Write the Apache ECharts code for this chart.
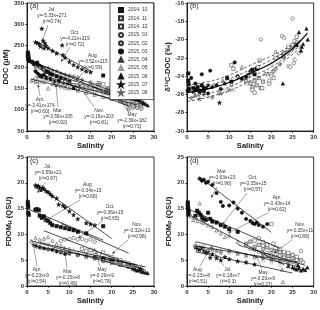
<!DOCTYPE html>
<html><head><meta charset="utf-8">
<script src="https://cdn.jsdelivr.net/npm/echarts@6/dist/echarts.min.js"></script>
<style>html,body{margin:0;padding:0;background:#fff}#c{width:320px;height:310px}</style>
</head><body><div id="c"></div>
<script>
// ---------- data ----------
const months = ['2014. 10','2014. 11','2014. 12','2015. 01','2015. 02','2015. 03','2015. 04','2015. 05','2015. 06','2015. 07','2015. 08'];
const xTicks = [0,5,10,15,20,25,30];

// panel (a) DOC (uM) vs salinity
const a_1410 = [[0.2,234],[0.3,230],[0.2,226],[0.4,222],[0.3,218],[0.5,214],[1.2,212],[1.6,208],[2,206],[2.4,210],[2.8,203],[3.2,200],[3.6,197],[4,194],[4.5,190],[5,188],[5.5,184],[6,182],[7,178],[8,174],[9,170],[10,166],[18,180]];
const a_1411 = [[9,165],[10,162],[11,158],[12,157],[13,155],[14,152],[15,150],[16,148],[17,146],[18,142],[19,140],[20,138],[21,135],[22,130],[23,128],[24,125],[25,120],[26,117],[27,114]];
const a_1412 = [[15,155],[16,158],[17,162],[18,160],[19,150],[20,158],[21,152],[22,148],[23,140],[24,132],[25,125],[26,120],[24,110],[26,108],[22,125],[20,145]];
const a_1501 = [[17,150],[18,145],[19,140],[20,135],[21,130],[22,125],[23,122],[24,118],[25,112],[26,108],[27,105],[25,104],[23,115]];
const a_1502 = [[19,138],[20,132],[21,128],[22,122],[23,118],[24,112],[25,108],[26,104],[27,102],[24,100]];
const a_1503 = [[2,190],[2.5,185],[3,180],[3.5,178],[4,182],[4.5,175],[5,170],[5.5,172],[6,168],[6.5,165],[7,162],[7.5,168],[8,160],[9,158],[10,160],[11,150],[12,148]];
const a_1504 = [[1,168],[1.5,170],[2,165],[2.5,168],[3,166],[4,165],[5,150],[6,160],[7,158],[8,155],[9,152],[10,150],[12,145],[14,140],[16,135],[18,130],[20,125],[22,120],[24,115],[26,112]];
const a_1505 = [[2,175],[3,172],[4,172],[5,170],[6,168],[7,165],[8,162],[9,160],[10,158],[12,152],[14,148],[16,142],[18,138],[20,132],[22,128],[24,125],[26,120]];
const a_1506 = [[23.5,156],[25,140],[26,125],[26.5,122],[27,118],[27.5,115],[28,113],[28.5,110]];
const a_1507 = [[3.5,290],[2,258],[2.5,256],[3,253],[3.2,248],[3.8,262],[4.2,256],[4,244],[4.5,250],[5,244],[6,238],[7,232],[8.3,251],[8.5,228],[9,222],[10,212],[11,205],[12,200],[13,195],[14,190],[15,188]];
const a_1508 = [[2,200],[3,198],[4,195],[5,198],[6,192],[7,190],[8,185],[9,182],[10,180],[11,178],[12,175],[13,170],[15,165],[17,160],[19,150],[21,142],[23,135],[25,128],[27,120]];

// panel (b) d13C-DOC (permil)
const b_1410 = [[0.3,-23.7],[0.3,-24.5],[0.4,-24.9],[0.5,-25.4],[0.2,-25.6],[1.5,-25.3],[2,-25.5],[2.5,-25.2],[3,-25.6],[3.5,-25.0],[4,-25.4],[9.5,-24.2],[10.5,-24.6],[15.5,-23.3],[16,-23.8],[16.5,-23.2]];
const b_1411 = [[14,-24.5],[14.5,-23.9],[15,-24.8],[15.5,-25.2],[16,-24.5],[16.5,-25.0],[17,-24.2],[17.5,-25.3],[18,-24.6]];
const b_1412 = [[10.5,-22.8],[11,-23.2],[15.5,-25.5],[16,-25.8],[16.8,-23.0],[17.2,-22.3],[17.8,-25.3],[19.5,-24.8],[20,-23.8],[20.5,-24.2],[21,-22.0],[22,-21.8],[23,-21.5],[24,-20.8],[25,-20.6],[25.5,-20.2],[26,-19.7]];
const b_1501 = [[17.5,-20.0],[19,-23.8],[19.5,-24.5],[20,-24.0],[22.5,-19.6],[23,-19.8],[24,-22.9],[24.5,-23.0],[25,-17.7],[25.5,-22.2],[26,-20.3],[26.5,-21.5],[25.3,-22.6]];
const b_1502 = [[20.5,-23.5],[21,-23.2],[22,-22.7],[23,-22.0],[24,-21.3],[25,-21.0],[26,-20.5]];
const b_1503 = [[1,-24.2],[2,-24.8],[3,-25.6],[3.5,-23.8],[4,-25.7],[4.5,-25.3],[5,-25.9],[5.5,-23.4],[6,-25.2],[7,-25.0],[8,-25.4],[11.3,-22.5],[12,-24.0],[13,-24.3],[14,-24.1],[15,-23.5]];
const b_1504 = [[7.5,-25.8],[8.5,-24.5],[10.5,-24.9],[12,-24.0],[13,-23.0],[15,-23.6],[18.5,-23.7],[21,-21.3],[22.7,-21.8],[23,-21.4]];
const b_1505 = [[2,-26.0],[3,-26.3],[5,-26.2],[9,-25.6],[11,-25.5],[14,-24.8],[20,-22.6],[24,-21.5]];
const b_1506 = [[22.7,-24.8],[26,-20.6],[26.5,-19.2],[27,-21.2],[27.5,-20.5],[28.3,-18.8],[28.6,-20.0],[27.2,-20.8]];
const b_1507 = [[1.5,-25.7],[2.5,-25.5],[3,-25.8],[4,-25.3],[5,-25.0],[7.7,-26.9],[9,-24.8]];
const b_1508 = [[1,-26.4],[2,-26.1],[3,-26.5],[4,-26.0],[6,-26.3],[8,-25.9],[10,-25.5]];
const bBandX = [0,5,10,15,20,25,27];
const bUpper2 = [-25.0,-24.6,-23.9,-22.8,-21.8,-20.6,-20.0];
const bUpper1 = [-25.3,-25.0,-24.3,-23.3,-22.2,-20.8,-20.1];
const bLower1 = [-26.4,-25.9,-25.2,-24.1,-23.0,-21.3,-20.6];
const bLower2 = [-26.8,-26.3,-25.6,-24.5,-23.4,-21.6,-20.8];
const bFitX = [0,5,10,15,20,25,28.5];
const bFit = [-25.8,-25.4,-24.7,-23.7,-22.6,-21.0,-19.3];

// panel (c) FDOM_H (QSU)
const c_1410 = [[0.2,16.3],[0.2,15.8],[0.3,15.3],[0.3,14.2],[0.4,13.8],[2,14.8],[2.4,14.9],[2.8,14.7],[3,13.6],[3.5,13.2],[4,13.5],[4.5,12.8],[5,12.6],[5.5,12.2],[6,11.8],[7,11.6],[8,11.4],[9,11.2],[10,11.0],[11,10.8],[12,10.5],[14,10.2],[18,11.6]];
const c_1411 = [[17,5.6],[18,5.3],[19,5.0],[20,4.8],[21,4.6],[22,4.4],[23,4.2],[24,4.0],[25,3.7],[26,3.4],[27,3.2]];
const c_1412 = [[13,7.2],[14,6.8],[15,7.0],[16,6.6],[17,6.2],[18,6.5],[19,5.8],[20,5.6],[21,5.2],[22,5.0],[23,4.6],[24,4.4],[25,4.0]];
const c_1501 = [[8,8.7],[9,9.0],[10,9.1],[11,9.3],[12,9.0],[13,9.1],[14,8.8],[15,9.0],[16,8.6],[18,4.8],[20,5.2],[22,4.4],[24,3.9],[26,3.5]];
const c_1502 = [[19,5.3],[20,5.0],[21,4.7],[22,4.5],[23,4.2],[24,3.8],[25,3.6],[26,3.3]];
const c_1503 = [[2,7.8],[3,7.5],[4,7.3],[5,7.1],[6,7.0],[7,6.7],[8,6.5],[9,6.2],[10,6.3],[12,6.0],[14,5.8],[16,5.6],[18,5.4],[20,4.9]];
const c_1504 = [[1,8.7],[2,9.3],[3,9.0],[4,9.2],[5,9.5],[6,8.8],[7,8.2],[8,7.8],[10,7.2],[12,6.5],[14,6.0],[16,5.5],[18,5.0],[20,4.5],[22,4.1]];
const c_1505 = [[2,8.5],[3,8.4],[4,8.6],[5,8.2],[7,7.9],[9,7.3],[11,7.0],[13,6.5],[15,6.2],[17,5.8],[19,5.4],[21,5.0],[23,4.6],[25,4.2],[27,3.9]];
const c_1506 = [[24,3.8],[25,3.4],[25.5,3.2],[26,3.0],[26.5,3.1],[27,2.8],[27.5,2.7],[28,2.6],[28.5,2.5],[26.8,3.4]];
const c_1507 = [[2,19.5],[2.3,19.2],[2.7,19.4],[3,19.0],[3.3,18.6],[3.7,19.1],[4,18.8],[4.5,18.4],[5,18.2],[5.5,17.8],[6,17.4],[7,17.0],[7.5,15.8],[8.5,15.6],[9,15.2],[10,14.5],[11,13.8],[12,13.0],[14,12.2],[15,12.0],[16,11.8]];
const c_1508 = [[1.5,8.0],[2.5,7.6],[3.5,7.4],[5,7.2],[6.5,7.0],[8,6.7],[10,6.4],[12,6.0],[14,5.6],[16,5.3],[18,5.0],[20,4.6],[22,4.2],[24,3.8]];

// panel (d) FDOM_P (QSU)
const d_1410 = [[0.2,16.2],[0.2,15.8],[0.2,15.4],[0.3,15.0],[0.3,14.6],[0.4,14.2],[0.3,13.8],[2,13.6],[2.4,14.6],[2.8,14.2],[3.2,13.8],[3.6,13.2],[4,13.0],[4.5,12.8],[5,14.2],[5.5,13.0],[6,12.5],[7,12.3],[8,11.8],[9,11.5],[10,11.0],[12,10.5]];
const d_1411 = [[14,8.2],[15,8.6],[16,7.6],[17,8.0],[18,7.2],[19,7.5],[20,7.0],[21,6.8],[22,6.6],[23,6.0],[24,5.8],[25,5.4],[26,5.2],[27,5.0]];
const d_1412 = [[16,8.8],[17,9.2],[18,8.5],[19,8.0],[20,12.0],[20.5,8.2],[21,7.4],[22,7.2],[23,6.6],[24,6.4],[25,6.0],[26,5.6]];
const d_1501 = [[15,7.2],[16,7.0],[17,6.6],[18,7.8],[19,6.4],[20,6.2],[21,6.0],[22,5.8],[23,5.5],[24,5.2],[25,6.0],[26,5.0],[27,6.8],[27.5,4.6]];
const d_1502 = [[18,6.2],[19,6.0],[20,5.8],[21,5.6],[22,5.3],[23,5.0],[24,4.8],[25,4.6],[26,4.4]];
const d_1503 = [[3,20.8],[3.5,20.4],[4,20.6],[4.5,20.0],[5,20.2],[6,19.6],[7,18.0],[8,16.3],[8.5,15.5],[10,15.6],[11,16.2],[12,15.0],[13,14.2],[14,13.0],[15,12.6],[15.5,12.2],[16,12.0],[16.5,12.3],[17,11.8],[18,11.5],[19,12.0]];
const d_1504 = [[1,13.5],[1.5,12.8],[2,13.2],[2.5,12.6],[3,16.0],[3.5,12.4],[4,12.2],[5,11.8],[6,11.5],[7,10.8],[8,10.2],[9,9.5],[10,9.8],[12,8.6],[14,8.0],[16,7.2],[18,6.5],[20,6.0],[22.5,3.2],[22.7,0.8]];
const d_1505 = [[2,8.2],[4,7.8],[6,7.4],[8,7.0],[10,6.6],[12,6.2],[14,5.8],[16,5.4],[18,5.0],[20,4.6],[22,4.2],[24,3.8]];
const d_1506 = [[24,3.9],[25,3.6],[25.5,3.4],[26,3.2],[26.5,3.5],[27,3.0],[27.5,3.3],[28,3.1],[28.5,3.6],[26.3,4.0]];
const d_1507 = [[2,7.5],[2.5,7.2],[3,7.0],[3.5,7.4],[4,6.8],[4.5,6.5],[5,6.6],[5.5,5.5],[6,6.2],[7,5.4],[8,5.0],[9,5.6],[10,5.2],[12,4.8],[14,4.6],[16,4.2]];
const d_1508 = [[2,7.8],[3,7.6],[4,7.3],[5,7.0],[6,7.1],[7,6.8],[8,6.5],[10,6.8],[12,6.3],[14,6.0],[16,5.7],[18,5.4],[20,5.1],[22,4.8],[24,4.4]];

// regressions: [month, slope, intercept, r2, salinity from, salinity to]
const fitA = [['Jul.',-5.33,271,'0.74',2,15.5],['Oct.',-4.21,219,'0.72',0,22],['Aug.',-3.52,215,'0.59',2,28],['Apr.',-2.41,174,'0.60',1,26],['Mar.',-3.59,195,'0.92',2,24],['Nov.',-3.16,203,'0.81',5,28],['May',-2.39,182,'0.73',2,27]];
const fitC = [['Jul.',-0.59,21,'0.97',2,20],['Aug.',-0.34,15,'0.68',0,18],['Oct.',-0.36,15,'0.65',8,24],['Nov.',-0.32,12,'0.98',4,28],['Apr.',-0.23,9,'0.54',1,26],['Mar.',-0.15,8,'0.45',2,26],['May',-0.19,9,'0.78',3,28]];
const fitD = [['Mar.',-0.63,23,'0.96',3,20],['Oct.',-0.35,15,'0.57',0,22],['Apr.',-0.43,14,'0.62',1,23],['Nov.',-0.25,11,'0.89',12,28],['Aug.',-0.13,8,'0.51',2,26],['Jul.',-0.18,7,'0.3',2,25],['May',-0.20,9,'0.27',2,27]];

// ---------- layout / style ----------
const aPts = [a_1410,a_1411,a_1412,a_1501,a_1502,a_1503,a_1504,a_1505,a_1506,a_1507,a_1508];
const bPts = [b_1410,b_1411,b_1412,b_1501,b_1502,b_1503,b_1504,b_1505,b_1506,b_1507,b_1508];
const cPts = [c_1410,c_1411,c_1412,c_1501,c_1502,c_1503,c_1504,c_1505,c_1506,c_1507,c_1508];
const dPts = [d_1410,d_1411,d_1412,d_1501,d_1502,d_1503,d_1504,d_1505,d_1506,d_1507,d_1508];
const STAR = 'path://M50,0L61,35L98,35L68,57L79,91L50,70L21,91L32,57L2,35L39,35Z';
const markStyle = [
 {symbol:'rect', fill:'#111', stroke:'#111'},
 {symbol:'rect', fill:'#ccc', stroke:'#333'},
 {symbol:'rect', fill:'#fff', stroke:'#333'},
 {symbol:'circle', fill:'#fff', stroke:'#333'},
 {symbol:'circle', fill:'#ccc', stroke:'#333'},
 {symbol:'circle', fill:'#111', stroke:'#111'},
 {symbol:'triangle', fill:'#fff', stroke:'#333'},
 {symbol:'triangle', fill:'#fff', stroke:'#999'},
 {symbol:'triangle', fill:'#111', stroke:'#111'},
 {symbol:STAR, fill:'#111', stroke:'#111'},
 {symbol:STAR, fill:'#999', stroke:'#666'}
];
// note layout in pixels: [textCenterX, textTopY, arrowFromX, arrowFromY, arrowToX, arrowToY]
const noteA = {'Jul.':[52,7,48,25,40,47],'Oct.':[75,30,70,47,61,62],'Aug.':[93,53,86,70,75,81],'Apr.':[40,97,40,96,38,84],'Mar.':[58,108,58,107,56,84],'Nov.':[99,108,94,107,78,84],'May':[132,112,128,111,120,100]};
const noteC = {'Jul.':[48,164,46,182,37,193],'Aug.':[88,182,80,200,43,222],'Oct.':[110,204,103,221,78,238],'Nov.':[137,222,128,240,112,254],'Apr.':[37,267,37,266,33,243],'Mar.':[68,269,67,268,64,246],'May':[102,267,100,266,94,248]};
const noteD = {'Mar.':[222,169,217,187,211,198],'Oct.':[253,175,247,193,222,225],'Apr.':[277,195,268,213,228,233],'Nov.':[300,222,292,240,274,253],'Aug.':[198,267,200,266,212,246],'Jul.':[228,267,224,266,215,254],'May':[263,270,262,269,256,255]};

const FONT = 'Liberation Sans, Arial, sans-serif';
const grids = [
 {left:27,top:2,width:127,height:129},
 {left:187,top:2,width:127,height:129},
 {left:27,top:157,width:127,height:129},
 {left:187,top:157,width:127,height:129}
].map(g => Object.assign(g, {show:true, borderColor:'#000', borderWidth:0.8, backgroundColor:'#fff'}));

const axisCommon = {
 axisLine:{show:true, onZero:false, lineStyle:{color:'#000', width:0.8}},
 axisTick:{show:true, length:2, lineStyle:{color:'#000', width:0.6}},
 axisLabel:{fontSize:6, fontWeight:'bold', color:'#333', margin:3, fontFamily:FONT},
 splitLine:{show:false},
 nameLocation:'middle',
 nameTextStyle:{fontSize:7.6, fontWeight:'bold', color:'#222', fontFamily:FONT,
   rich:{n:{fontSize:7.6, fontWeight:'bold', color:'#222', fontFamily:FONT, lineHeight:10},
         s:{fontSize:5, fontWeight:'bold', color:'#222', fontFamily:FONT, lineHeight:5, verticalAlign:'bottom'}}}
};
const xAxes = [0,1,2,3].map(i => Object.assign({}, axisCommon, {type:'value', gridIndex:i, min:xTicks[0], max:xTicks[xTicks.length-1], interval:xTicks[1]-xTicks[0], name:'Salinity', nameGap:11}));
const yAxes = [
 Object.assign({}, axisCommon, {type:'value', gridIndex:0, min:50, max:350, interval:50, name:'DOC (μM)', nameGap:15}),
 Object.assign({}, axisCommon, {type:'value', gridIndex:1, min:-30, max:-16, interval:2, name:'δ¹³C-DOC (‰)', nameGap:13}),
 Object.assign({}, axisCommon, {type:'value', gridIndex:2, min:0, max:25, interval:5, name:'{n|FDOM}{s|H}{n| (QSU)}', nameGap:13}),
 Object.assign({}, axisCommon, {type:'value', gridIndex:3, min:0, max:25, interval:5, name:'{n|FDOM}{s|P}{n| (QSU)}', nameGap:13})
];

const series = [];
[aPts,bPts,cPts,dPts].forEach((pts,p) => pts.forEach((d,m) => {
 const st = markStyle[m];
 series.push({type:'scatter', name:months[m], xAxisIndex:p, yAxisIndex:p, data:d, symbol:st.symbol,
   symbolSize: st.symbol===STAR ? 4.2 : 3.4, silent:true, z:3,
   itemStyle:{color:st.fill, borderColor:st.stroke, borderWidth:0.5, opacity:1}});
}));
[[fitA,0],[fitC,2],[fitD,3]].forEach(([fits,p]) => fits.forEach(f => {
 series.push({type:'line', xAxisIndex:p, yAxisIndex:p, symbol:'none', silent:true, z:4,
   data:[[f[4], f[1]*f[4]+f[2]],[f[5], f[1]*f[5]+f[2]]], lineStyle:{color:'#000', width:0.7}});
}));
[bUpper2,bUpper1,bLower1,bLower2].forEach(c => series.push({type:'line', xAxisIndex:1, yAxisIndex:1, symbol:'none', silent:true, z:4, smooth:0.4,
   data:bBandX.map((x,i)=>[x,c[i]]), lineStyle:{color:'#000', width:0.6, type:[3,2]}}));
series.push({type:'line', xAxisIndex:1, yAxisIndex:1, symbol:'none', silent:true, z:5, smooth:0.4,
   data:bFitX.map((x,i)=>[x,bFit[i]]), lineStyle:{color:'#000', width:1.2}});

// annotations
const graphic = [];
[['(a)',30,3],['(b)',190,3],['(c)',30,158],['(d)',190,158]].forEach(([t,x,y]) =>
 graphic.push({type:'text', silent:true, z:10, style:{text:t, x:x, y:y, font:'7px '+FONT, fill:'#222'}}));
[[fitA,noteA],[fitC,noteC],[fitD,noteD]].forEach(([fits,notes]) => fits.forEach(f => {
 const n = notes[f[0]];
 const sign = f[1] < 0 ? '-' : '';
 const txt = f[0] + '\ny=' + sign + Math.abs(f[1]).toFixed(2) + 'x+' + f[2] + '\n(r²=' + f[3] + ')';
 graphic.push({type:'text', silent:true, z:10, style:{text:txt, x:n[0], y:n[1], align:'center', verticalAlign:'top', lineHeight:6, font:'4.8px '+FONT, fill:'#333'}});
 const dx = n[4]-n[2], dy = n[5]-n[3], L = Math.hypot(dx,dy), ux = dx/L, uy = dy/L;
 graphic.push({type:'line', silent:true, z:10, shape:{x1:n[2], y1:n[3], x2:n[4]-ux*2, y2:n[5]-uy*2}, style:{stroke:'#444', lineWidth:0.5}});
 const bx = n[4]-ux*3, by = n[5]-uy*3;
 graphic.push({type:'polygon', silent:true, z:10, shape:{points:[[n[4],n[5]],[bx-uy*1.3,by+ux*1.3],[bx+uy*1.3,by-ux*1.3]]}, style:{fill:'#444'}});
}));

const chart = echarts.init(document.getElementById('c'), null, {renderer:'canvas'});
chart.setOption({
 animation:false,
 backgroundColor:'#fff',
 textStyle:{fontFamily:FONT},
 grid:grids, xAxis:xAxes, yAxis:yAxes, series:series, graphic:graphic,
 legend:{data:months, orient:'vertical', left:110, top:3, padding:[4,6,4,8], itemWidth:4, itemHeight:4, itemGap:2.3,
   borderColor:'#000', borderWidth:0.6, backgroundColor:'#fff', selectedMode:false, z:20,
   textStyle:{fontSize:5, lineHeight:5, color:'#333', fontFamily:FONT}}
});
</script></body></html>
